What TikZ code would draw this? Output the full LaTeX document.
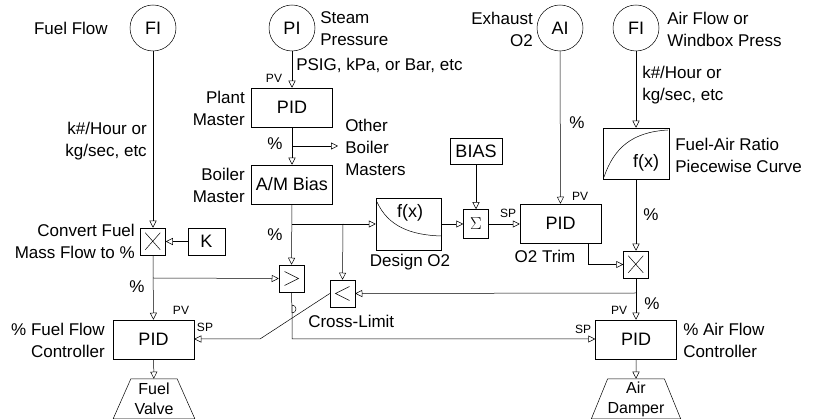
\documentclass[tikz,border=0pt]{standalone}
\usepackage{fontspec}
\setmainfont{Liberation Sans}
\usetikzlibrary{arrows.meta,positioning,shapes.geometric}
\begin{document}
\begin{tikzpicture}[x=1pt, y=-1pt,
    inst/.style={draw, circle, minimum size=46pt, inner sep=0pt, font=\fontsize{18}{20}\selectfont},
    block/.style={draw, rectangle, minimum width=81pt, minimum height=39pt, inner sep=0pt, font=\fontsize{18}{20}\selectfont},
    func/.style={draw, rectangle, minimum width=25pt, minimum height=27pt, inner sep=0pt},
    final/.style={draw, trapezium, trapezium angle=65, minimum height=40pt, minimum width=82pt, trapezium stretches=true, inner sep=0pt, align=center, font=\fontsize{16}{20}\selectfont},
    txt/.style={inner sep=0pt, font=\fontsize{17}{22}\selectfont},
    tag/.style={inner sep=0pt, font=\fontsize{12}{13}\selectfont},
    sig/.style={-{Triangle[open, length=7pt, width=7pt]}},
    line width=0.5pt
]
    \useasboundingbox (0,0) rectangle (820,419);

    % Transmitters
    \node[inst] (ffi) at (153,28) {FI};
    \node[inst] (pi) at (292,28) {PI};
    \node[inst] (ai) at (560,28) {AI};
    \node[inst] (afi) at (636,28) {FI};
    \node[txt, anchor=east] at (108,28) {Fuel Flow};
    \node[txt, anchor=west, align=left] at (320,29) {Steam\\Pressure};
    \node[txt, anchor=west] at (296,65) {PSIG, kPa, or Bar, etc};
    \node[txt, anchor=east, align=right] at (533,29) {Exhaust\\O2};
    \node[txt, anchor=west, align=left] at (667,29) {Air Flow or\\Windbox Press};

    % Masters
    \node[block] (plant) at (292,107.5) {PID};
    \node[block] (boiler) at (292,184.5) {A/M Bias};
    \node[txt, anchor=east, align=right] at (245,108) {Plant\\Master};
    \node[txt, anchor=east, align=right] at (245,185) {Boiler\\Master};
    \node[txt, anchor=west, align=left] at (345,147) {Other\\Boiler\\Masters};
    \node[tag] at (274,78) {PV};
    \node[txt] at (275,144) {\%};
    \coordinate (other) at (292,146);

    % Fuel side
    \node[func] (fmul) at (153,241.5) {};
    \draw (fmul.north west) ++(5,5) -- ++(15,17) ++(0,-17) -- ++(-15,17);
    \node[func, minimum width=37pt, font=\fontsize{18}{20}\selectfont] (k) at (206.5,241.5) {K};
    \node[txt, anchor=east, align=right] at (147,141) {k\#/Hour or\\kg/sec, etc};
    \node[txt, anchor=east, align=right] at (135,241) {Convert Fuel\\Mass Flow to \%};
    \node[txt] at (137,287) {\%};
    \node[block] (fpid) at (153.5,339.5) {PID};
    \node[txt, anchor=east, align=right] at (105,340) {\% Fuel Flow\\Controller};
    \node[tag] at (181,310) {PV};
    \node[tag] at (205,327) {SP};
    \node[final] (valve) at (154,399) {Fuel\\Valve};

    % Cross limits
    \node[func] (hi) at (291.5,278.5) {};
    \draw (hi.center) ++(-7,-7) -- ++(14,7) -- ++(-14,7);
    \node[func] (lo) at (342.5,293.5) {};
    \draw (lo.center) ++(7,-7) -- ++(-14,7) -- ++(14,7);
    \node[txt, anchor=west] at (308,321) {Cross-Limit};
    \node[txt] at (275,235) {\%};

    % O2 trim
    \node[draw, minimum width=65pt, minimum height=52pt, inner sep=0pt] (dfx) at (408.5,224) {};
    \draw (377,202) .. controls (388,226) and (410,235) .. (441,236);
    \node[font=\fontsize{18}{20}\selectfont] at (410,213) {f(x)};
    \node[txt] at (410,262) {Design O2};
    \node[func, minimum height=29pt, font=\fontsize{16}{18}\selectfont] (sum) at (476,224) {$\Sigma$};
    \node[draw, minimum width=52pt, minimum height=26pt, inner sep=0pt, font=\fontsize{18}{20}\selectfont] (bias) at (476,151) {BIAS};
    \node[block] (o2pid) at (560.5,223.5) {PID};
    \node[tag] at (580,196) {PV};
    \node[tag] at (508,213) {SP};
    \node[txt] at (545,256) {O2 Trim};
    \node[txt] at (577,123) {\%};

    % Air side
    \node[draw, minimum width=66pt, minimum height=51pt, inner sep=0pt] (afx) at (636,153.5) {};
    \draw (604,177) .. controls (614,148) and (632,132) .. (668,130);
    \node[font=\fontsize{18}{20}\selectfont] at (646,163) {f(x)};
    \node[txt, anchor=west, align=left] at (642,85) {k\#/Hour or\\kg/sec, etc};
    \node[txt, anchor=west, align=left] at (675,155) {Fuel-Air Ratio\\Piecewise Curve};
    \node[txt] at (651,215) {\%};
    \node[func] (amul) at (636,264.5) {};
    \draw (amul.north west) ++(5,5) -- ++(15,17) ++(0,-17) -- ++(-15,17);
    \node[txt] at (652,304) {\%};
    \node[block] (apid) at (636,339.5) {PID};
    \node[txt, anchor=west, align=left] at (683,340) {\% Air Flow\\Controller};
    \node[tag] at (619,310) {PV};
    \node[tag] at (583,329) {SP};
    \node[final] (damper) at (636,399) {Air\\Damper};

    % Signals
    \draw[sig] (pi) -- (plant);
    \draw[sig] (plant) -- (boiler);
    \draw[sig] (other) -- ++(46,0);
    \draw[sig] (ffi) -- (fmul);
    \draw[sig] (k) -- (fmul);
    \draw[sig] (fmul) -- (fpid);
    \draw[sig] (153,278) -- (hi.west);
    \draw[sig] (fpid) -- (valve);
    \draw[sig] (boiler) -- (hi);
    \draw[sig] (292,224) -- (dfx.west);
    \draw[sig] (343,224) -- (lo.north);
    \draw[sig] (dfx.east |- sum) -- (sum);
    \draw[sig] (bias) -- (sum);
    \draw[sig] (sum) -- (o2pid.west |- sum);
    \draw[sig] (ai) -- (o2pid);
    \draw[sig] (afi) -- (afx);
    \draw[sig] (afx) -- (amul);
    \draw[sig] (o2pid.south -| 588,0) |- (amul.west);
    \draw[sig] (amul) -- (apid);
    \draw[sig] (636,293) -- (lo.east);
    \draw[sig] (apid) -- (damper);
    \draw[sig] (hi.south) -- (292,313) arc[start angle=90, end angle=-90, radius=4] -- (292,339) -- (apid.west |- 0,339);
    \draw[sig] (lo.west) -- (260,339) -- (fpid.east |- 0,339);
\end{tikzpicture}
\end{document}
